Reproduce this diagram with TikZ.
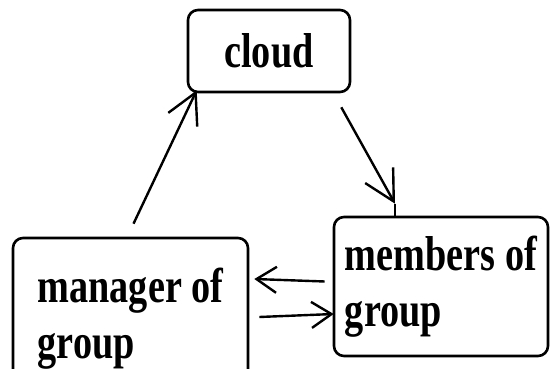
\documentclass[tikz,border=0pt]{standalone}
\usepackage{fontspec}
\setmainfont{Liberation Serif}[FakeStretch=0.78]
\usetikzlibrary{arrows.meta}

\tikzset{
  box/.style={draw, line width=2.6pt, rounded corners=10pt, align=left,
    inner sep=0pt, font=\fontsize{49}{56}\selectfont\bfseries},
  link/.style={line width=2.4pt, -{Straight Barb[length=30pt,width=32pt]}},
  linkshort/.style={line width=2.4pt, -{Straight Barb[length=20pt,width=26pt]}}
}

\begin{document}
\begin{tikzpicture}[x=1pt,y=-1pt]
  \useasboundingbox (0,0) rectangle (550,369);
  \clip (0,0) rectangle (550,369);
  \node[box, minimum width=162pt, minimum height=82pt] (cloud) at (269,51) {cloud};
  \node[box, minimum width=235pt, minimum height=162pt] (manager) at (130.5,319) {manager of\\group};
  \node[box, minimum width=214pt, minimum height=139pt] (members) at (441,286.5) {members of\\group};
  \coordinate (tip) at ([shift={(-46,-12)}]members.north);
  \draw[link] ([shift={(3,-13)}]manager.north) -- ([shift={(10,-3)}]cloud.south west);
  \draw[link] ([shift={(-10,14)}]cloud.south east) -- (tip);
  \draw[line width=2.4pt] (tip) -- (members.north -| tip);
  \draw[linkshort] ([shift={(-8,-5)}]members.west) -- ([shift={(5,-40)}]manager.east);
  \draw[linkshort] ([shift={(10,-2)}]manager.east) -- ([shift={(1,27.5)}]members.west);
\end{tikzpicture}
\end{document}
